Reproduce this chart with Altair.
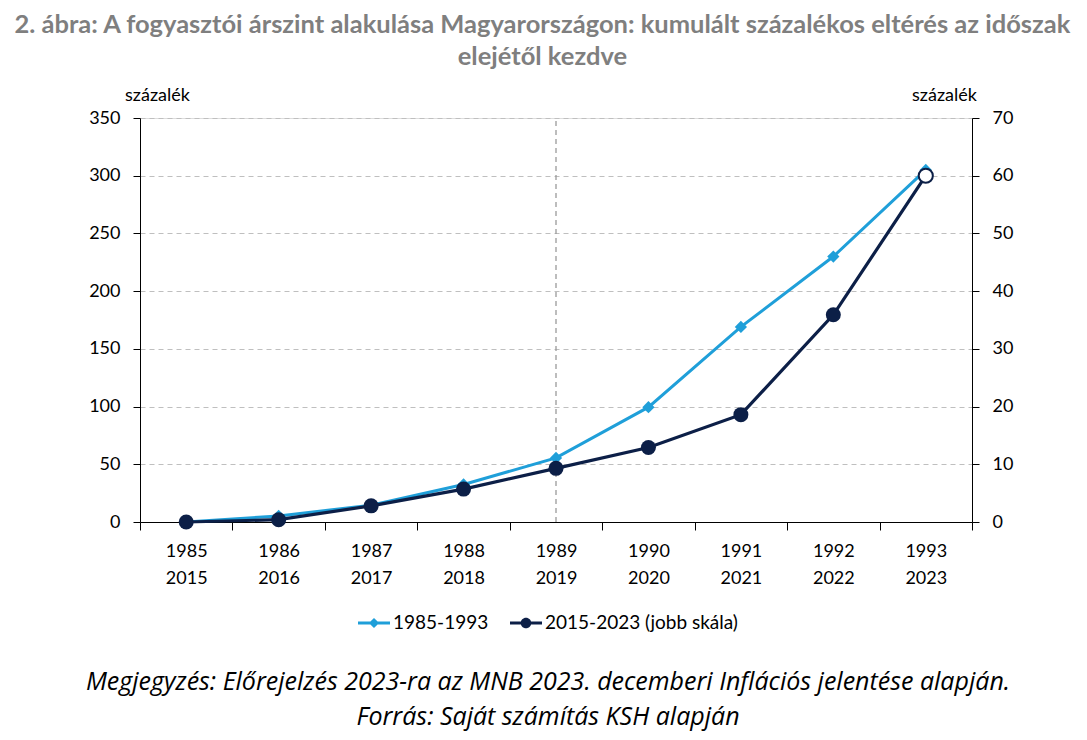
import altair as alt
import pandas as pd

# ---- data ----
categories = ["1985 2015", "1986 2016", "1987 2017", "1988 2018", "1989 2019",
              "1990 2020", "1991 2021", "1992 2022", "1993 2023"]
series_a_name = "1985-1993"
series_b_name = "2015-2023 (jobb skála)"
values_a = [0, 5.3, 14.5, 32.5, 55.5, 99.5, 169, 230, 305]
values_b = [0, 0.4, 2.8, 5.7, 9.3, 12.9, 18.6, 35.9, 60.0]
forecast_b = [False, False, False, False, False, False, False, False, True]
divider_category = "1989 2019"
left_ticks = [0, 50, 100, 150, 200, 250, 300, 350]
right_ticks = [0, 10, 20, 30, 40, 50, 60, 70]

title_lines = ["2. ábra: A fogyasztói árszint alakulása Magyarországon: kumulált százalékos eltérés az időszak",
               "elejétől kezdve"]
note_lines = ["Megjegyzés: Előrejelzés 2023-ra az MNB 2023. decemberi Inflációs jelentése alapján.",
              "Forrás: Saját számítás KSH alapján"]
axis_unit = "százalék"

LIGHT = "#1f9fd9"
DARK = "#0c1f47"
FONT = "Lato"

df_a = pd.DataFrame({"cat": categories, "value": values_a, "series": series_a_name})
df_b = pd.DataFrame({"cat": categories, "value": values_b, "series": series_b_name,
                     "forecast": forecast_b})
df_div = pd.DataFrame({"cat": [divider_category], "lo": [left_ticks[0]], "hi": [left_ticks[-1]]})

x_axis = alt.Axis(title=None, tickBand="extent", labelExpr="split(datum.label, ' ')",
                  labelFontSize=18, labelFont=FONT, labelColor="black", labelLineHeight=27,
                  labelPadding=12, tickSize=8, tickColor="black", domainColor="black",
                  labelAngle=0, grid=False)
x_enc = alt.X("cat:N", sort=categories,
              scale=alt.Scale(type="band", domain=categories, paddingInner=0, paddingOuter=0),
              axis=x_axis)

left_axis = alt.Axis(values=left_ticks, title=axis_unit, titleAngle=0, titleAlign="center",
                     titleBaseline="alphabetic", titleX=17, titleY=-18, titleFontSize=18,
                     titleFont=FONT, titleFontWeight="normal", titleColor="black",
                     labelFontSize=18, labelFont=FONT, labelColor="black", labelPadding=13,
                     tickSize=7, tickColor="black", domainColor="black",
                     grid=True, gridDash=[5, 4], gridColor="#bfbfbf", gridWidth=1)
right_axis = alt.Axis(values=right_ticks, orient="right", title=axis_unit, titleAngle=0,
                      titleAlign="center", titleBaseline="alphabetic", titleX=-28, titleY=-18,
                      titleFontSize=18, titleFont=FONT, titleFontWeight="normal",
                      titleColor="black", labelFontSize=18, labelFont=FONT, labelColor="black",
                      labelPadding=13, tickSize=7, tickColor="black", domainColor="black",
                      grid=False)

y_left_scale = alt.Scale(domain=[left_ticks[0], left_ticks[-1]], nice=False)
y_right_scale = alt.Scale(domain=[right_ticks[0], right_ticks[-1]], nice=False)

legend_common = dict(title=None, orient="none", symbolSize=1024, symbolStrokeWidth=0,
                     labelFontSize=19, labelFont=FONT, labelColor="black", labelOffset=3,
                     labelLimit=0, direction="horizontal")
diamond_path = ("M-1,-0.09 L1,-0.09 L1,0.09 L-1,0.09 Z "
                "M0,-0.32 L0.32,0 L0,0.32 L-0.32,0 Z")
circle_path = ("M-1,-0.09 L1,-0.09 L1,0.09 L-1,0.09 Z "
               "M-0.33,0 A0.33,0.33 0 1,1 0.33,0 A0.33,0.33 0 1,1 -0.33,0 Z")

# ---- left-scale series ----
divider = alt.Chart(df_div).mark_rule(color="#9a9a9a", strokeDash=[5, 4], strokeWidth=1.3).encode(
    x=x_enc,
    y=alt.Y("lo:Q", scale=y_left_scale, axis=left_axis),
    y2="hi:Q",
)
line_a = alt.Chart(df_a).mark_line(color=LIGHT, strokeWidth=3).encode(
    x=x_enc, y=alt.Y("value:Q", scale=y_left_scale, axis=left_axis))
point_a = alt.Chart(df_a).mark_point(shape="diamond", filled=True, size=150, opacity=1).encode(
    x=x_enc, y=alt.Y("value:Q", scale=y_left_scale, axis=left_axis),
    color=alt.Color("series:N", scale=alt.Scale(domain=[series_a_name], range=[LIGHT]),
                    legend=alt.Legend(symbolType=diamond_path, legendX=218, legendY=489,
                                      **legend_common)))
layer_a = alt.layer(divider, line_a, point_a)

# ---- right-scale series ----
line_b = alt.Chart(df_b).mark_line(color=DARK, strokeWidth=3.2).encode(
    x=x_enc, y=alt.Y("value:Q", scale=y_right_scale, axis=right_axis))
point_b = alt.Chart(df_b).transform_filter("!datum.forecast").mark_point(
    shape="circle", filled=True, size=225, opacity=1).encode(
    x=x_enc, y=alt.Y("value:Q", scale=y_right_scale, axis=right_axis),
    color=alt.Color("series:N", scale=alt.Scale(domain=[series_b_name], range=[DARK]),
                    legend=alt.Legend(symbolType=circle_path, legendX=370, legendY=489,
                                      **legend_common)))
point_b_fc = alt.Chart(df_b).transform_filter("datum.forecast").mark_point(
    shape="circle", filled=True, fill="white", stroke=DARK, strokeWidth=2, size=200,
    opacity=1).encode(
    x=x_enc, y=alt.Y("value:Q", scale=y_right_scale, axis=right_axis))
layer_b = alt.layer(line_b, point_b, point_b_fc)

plot = alt.layer(layer_a, layer_b).resolve_scale(y="independent", color="independent").properties(
    width=832, height=404,
    title=alt.TitleParams(text=note_lines, orient="bottom", anchor="middle", fontSize=25,
                          font="Open Sans", fontStyle="italic", fontWeight="normal",
                          color="black", lineHeight=35, offset=37, dx=-8))

chart = alt.vconcat(plot, title=alt.TitleParams(
    text=title_lines, anchor="middle", fontSize=25.5, font=FONT, fontWeight="bold",
    color="#7f7f7f", lineHeight=32, offset=15, dx=-7)
).configure_view(stroke=None).configure(background="white")

chart.save("out.html", embed_options={"renderer": "svg", "actions": False})
